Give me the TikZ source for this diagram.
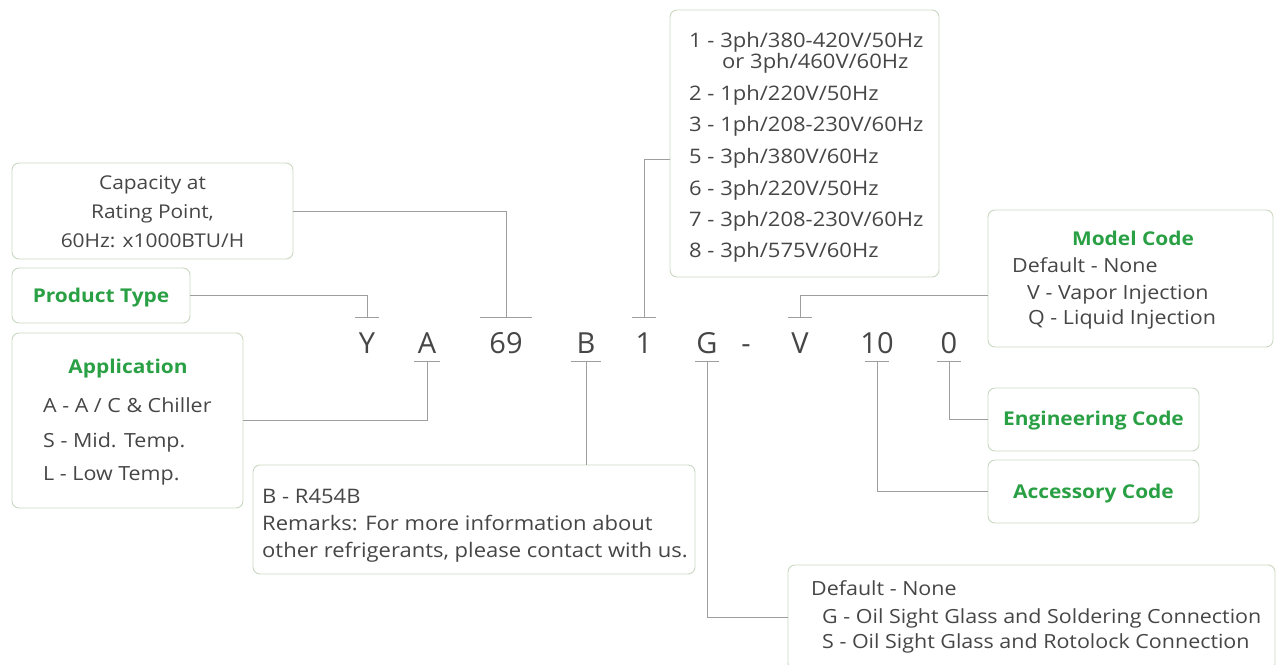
\documentclass[tikz,border=0pt]{standalone}
\usepackage{fontspec}
\setmainfont{Open Sans}[FakeStretch=1.1]
\newfontfamily\codefont{Open Sans}
\usetikzlibrary{calc}

\definecolor{codegreen}{HTML}{2AA045}
\definecolor{boxline}{HTML}{CAD8C2}
\definecolor{leadgray}{HTML}{9E9E9E}
\definecolor{txtgray}{HTML}{464646}

\tikzset{
  box/.style={draw=boxline, line width=0.9pt, rounded corners=7pt, inner sep=0pt},
  txt/.style={text=txtgray, inner sep=0pt, font=\fontsize{19.5}{22}\selectfont},
  bigtxt/.style={txt, font=\fontsize{20}{22}\selectfont},
  ttl/.style={text=codegreen, inner sep=0pt, font=\fontsize{19}{22}\selectfont\bfseries},
  code/.style={text=txtgray, inner sep=0pt, anchor=base, font=\codefont\fontsize{29}{32}\selectfont},
  leader/.style={draw=leadgray, line width=0.8pt},
}

\begin{document}
\begin{tikzpicture}[x=1pt,y=-1pt]
\useasboundingbox[fill=white] (0,0) rectangle (1277,664);

% boxes
\node[box, minimum width=281pt, minimum height=96pt]  (cap)   at (152.5,211) {};
\node[box, minimum width=178pt, minimum height=55pt]  (ptype) at (101,295.5) {};
\node[box, minimum width=231pt, minimum height=175pt] (app)   at (127.5,420.5) {};
\node[box, minimum width=442pt, minimum height=109pt] (refr)  at (474,519.5) {};
\node[box, minimum width=269pt, minimum height=267pt] (volt)  at (804.5,143.5) {};
\node[box, minimum width=285pt, minimum height=137pt] (model) at (1130.5,278.5) {};
\node[box, minimum width=211pt, minimum height=63pt]  (eng)   at (1093.5,419.5) {};
\node[box, minimum width=211pt, minimum height=63pt]  (acc)   at (1093.5,491.5) {};
\node[box, minimum width=487pt, minimum height=105pt] (conn)  at (1031.5,617.5) {};

% capacity
\node[txt, font=\fontsize{19}{22}\selectfont, anchor=base] (cap1) at (152.5,189) {Capacity at};
\node[txt, font=\fontsize{19}{22}\selectfont, anchor=base] (cap2) at (152.5,218) {Rating Point,};
\node[txt, font=\fontsize{19}{22}\selectfont, anchor=base] (cap3) at (152.5,247) {60Hz: x1000BTU/H};

% product type
\node[ttl, anchor=base] (ptypet) at (101,302) {Product Type};

% application
\node[ttl, anchor=base] (appt) at (128,373) {Application};
\node[txt, anchor=base west] (app1) at (43,412) {A - A / C \& Chiller};
\node[txt, anchor=base west] (app2) at (43,447) {S - Mid. Temp.};
\node[txt, anchor=base west] (app3) at (43,480) {L - Low Temp.};

% refrigerant
\node[bigtxt, anchor=base west] (refr1) at (262,503) {B - R454B};
\node[bigtxt, anchor=base west] (refr2) at (262,530) {Remarks: For more information about};
\node[bigtxt, anchor=base west] (refr3) at (262,557) {other refrigerants, please contact with us.};

% voltage
\node[bigtxt, anchor=base west] (volt1) at (689,47) {1 - 3ph/380-420V/50Hz};
\node[bigtxt, anchor=base west] (volt1b) at (722,68) {or 3ph/460V/60Hz};
\foreach \y/\t [count=\i] in {100/{2 - 1ph/220V/50Hz}, 131/{3 - 1ph/208-230V/60Hz},
    163/{5 - 3ph/380V/60Hz}, 195/{6 - 3ph/220V/50Hz},
    226/{7 - 3ph/208-230V/60Hz}, 257/{8 - 3ph/575V/60Hz}}
  \node[bigtxt, anchor=base west] (voltl\i) at (689,\y) {\t};

% model code
\node[ttl, anchor=base] (modelt) at (1133,245) {Model Code};
\node[txt, anchor=base west] (model1) at (1012,272) {Default - None};
\node[txt, anchor=base west] (model2) at (1027,299) {V - Vapor Injection};
\node[txt, anchor=base west] (model3) at (1028,324) {Q - Liquid Injection};

% engineering / accessory
\node[ttl, anchor=base] (engt) at (1093.5,425) {Engineering Code};
\node[ttl, anchor=base] (acct) at (1093.5,498) {Accessory Code};

% connection
\node[txt, anchor=base west] (conn1) at (811,595) {Default - None};
\node[txt, anchor=base west] (conn2) at (822,623) {G - Oil Sight Glass and Soldering Connection};
\node[txt, anchor=base west] (conn3) at (822,648) {S - Oil Sight Glass and Rotolock Connection};

% model number
\foreach \x/\t/\n in {367/Y/cY, 427/A/cA, 506/69/c69, 586/B/cB, 644/1/c1,
    707/G/cG, 746/-/cDash, 800/V/cV, 877/10/c10, 949/0/c0}
  \node[code] (\n) at (\x,353) {\t};

% ticks
\foreach \n/\w in {cY/12, c69/26, c1/12, cV/12} {
  \coordinate (up\n) at ($(\n.base)+(0,-36)$);
  \draw[leader] ($(up\n)+(-\w,0)$) -- ++(2*\w,0);
}
\foreach \n/\w in {cA/13, cB/15, cG/12, c10/12, c0/12} {
  \coordinate (dn\n) at ($(\n.base)+(0,8)$);
  \draw[leader] ($(dn\n)+(-\w,0)$) -- ++(2*\w,0);
}

% leaders
\coordinate (voltin) at ($(volt.north west)!0.56!(volt.south west)$);
\coordinate (modelin) at ($(model.north west)!0.62!(model.south west)$);
\draw[leader] (cap.east) -| (upc69);
\draw[leader] (ptype.east) -| (upcY);
\draw[leader] (voltin) -| (upc1);
\draw[leader] (modelin) -| (upcV);
\draw[leader] (app.east) -| (dncA);
\draw[leader] (refr.north -| dncB) -- (dncB);
\draw[leader] (conn.west) -| (dncG);
\draw[leader] (eng.west) -| (dnc0);
\draw[leader] (acc.west) -| (dnc10);
\end{tikzpicture}
\end{document}
